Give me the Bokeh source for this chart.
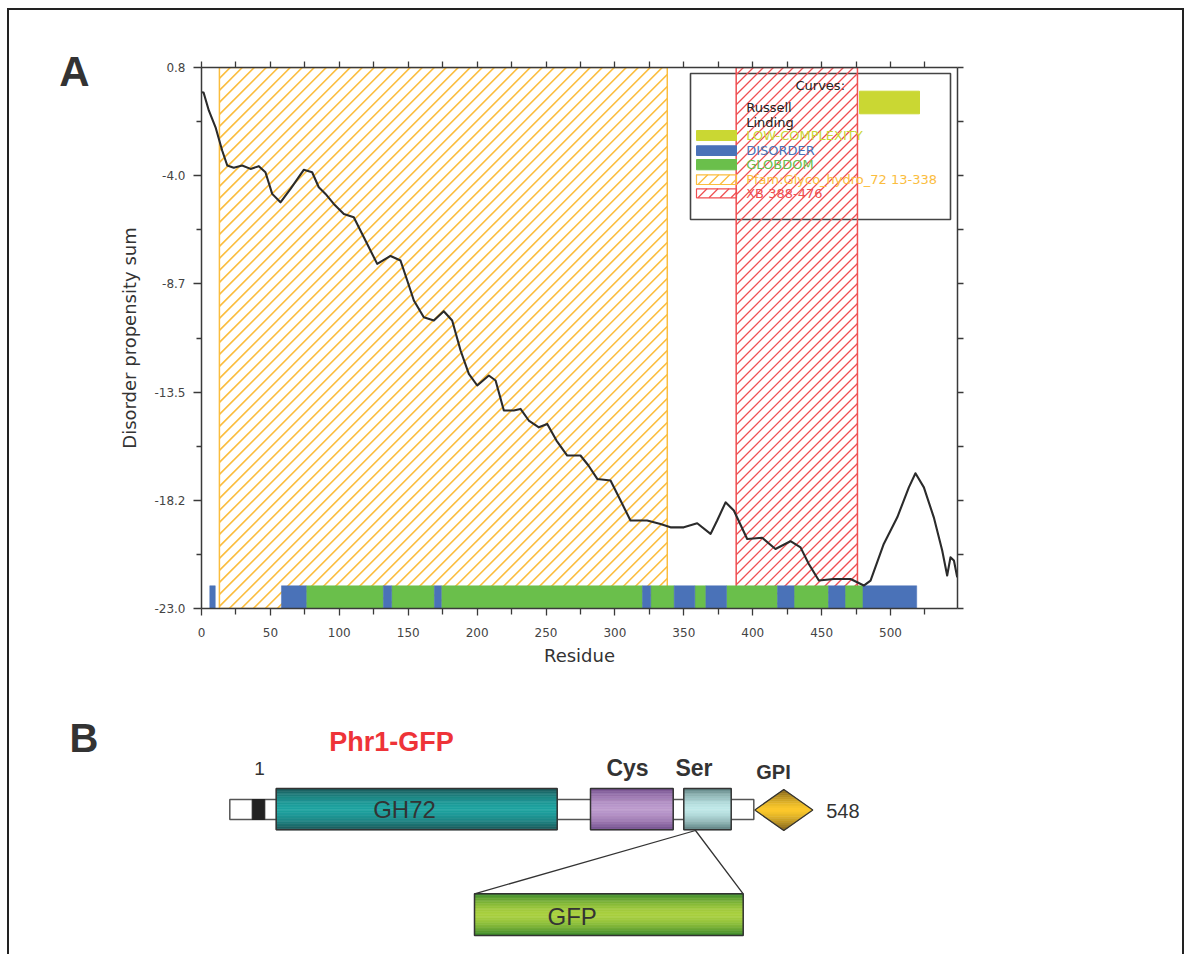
import numpy as np
from bokeh.plotting import figure
from bokeh.models import Range1d, LinearAxis, FixedTicker
from bokeh.layouts import column
from bokeh.core.properties import value
from bokeh.embed import file_html
from bokeh.resources import INLINE

# ---------------- Panel A data ----------------
residue = [0, 1.5, 5.3, 10.2, 15.0, 18.7, 23.4, 29.5, 35.6, 41.6, 46.4, 51.3, 57.3, 64.6, 74.2,
           80.3, 85.1, 90.0, 96.0, 103.3, 110.5, 117.8, 127.5, 137.2, 144.4, 149.3, 154.1, 161.3,
           168.6, 175.8, 181.9, 188.0, 194.0, 200.1, 208.5, 213.4, 219.4, 226.6, 231.5, 237.5,
           244.8, 250.9, 257.6, 265.4, 275.0, 280.8, 287.2, 296.8, 304.1, 311.3, 323.4, 333.1,
           340.3, 350.0, 359.7, 369.4, 374.2, 380.3, 386.3, 396.0, 406.9, 416.5, 427.4, 434.7,
           440.7, 448.0, 458.9, 471.0, 480.6, 485.5, 495.1, 504.9, 513.3, 518.1, 524.2, 531.4,
           537.5, 541.1, 543.5, 546.0, 548.4]
propensity = [-0.29, -0.30, -1.09, -1.83, -2.85, -3.51, -3.61, -3.51, -3.66, -3.54, -3.81, -4.76,
              -5.13, -4.54, -3.70, -3.81, -4.47, -4.76, -5.20, -5.64, -5.79, -6.67, -7.84, -7.49,
              -7.69, -8.57, -9.45, -10.19, -10.33, -9.92, -10.33, -11.65, -12.68, -13.19, -12.75,
              -12.97, -14.29, -14.29, -14.22, -14.73, -15.03, -14.88, -15.61, -16.27, -16.27,
              -16.71, -17.30, -17.37, -18.25, -19.13, -19.13, -19.28, -19.43, -19.43, -19.25,
              -19.72, -19.13, -18.33, -18.69, -19.94, -19.89, -20.38, -20.04, -20.31, -21.04,
              -21.77, -21.70, -21.70, -21.99, -21.77, -20.16, -18.99, -17.67, -17.05, -17.67,
              -18.99, -20.45, -21.55, -20.75, -20.89, -21.63]

disorder_start = [6, 58, 132, 169, 320, 343, 366, 418, 455, 480]
disorder_end = [10, 76, 138, 174, 326, 358, 381, 430, 467, 519]
globdom_start = [76, 138, 174, 326, 358, 381, 430, 467]
globdom_end = [132, 169, 320, 343, 366, 418, 455, 480]

pfam_region = (13, 338)
xb_region = (388, 476)

y_ticks = [0.8, -3.96, -8.72, -13.48, -18.24, -23.0]
y_tick_labels = ["0.8", "-4.0", "-8.7", "-13.5", "-18.2", "-23.0"]
y_minor = [-1.58, -6.34, -11.1, -15.86, -20.62]
x_ticks = list(range(0, 501, 50))
x_minor = list(range(25, 549, 50))
x_top_ticks = list(range(0, 549, 25))

legend_labels = ["LOW-COMPLEXITY", "DISORDER", "GLOBDOM", "Pfam:Glyco_hydro_72 13-338", "XB 388-476"]

# ---------------- Panel B data (schematic, picture-pixel units) ----------------
domain_names = ["GH72", "Cys", "Ser"]
domain_x0 = [275.7, 590.0, 683.3]
domain_x1 = [556.7, 672.7, 730.7]

# ---------------- colours ----------------
C_ORANGE = "#fbbd3e"
C_RED = "#ef4f52"
C_BLUE = "#4a72b8"
C_GREEN = "#6abf4b"
C_LOWC = "#cad733"
AX = "#3a3a3a"
TXT = "#333333"

X_LO, X_HI = 0, 548.6
Y_LO, Y_HI = -23.0, 0.8

W = 1173
HA, HB = 690, 254
ML, MR = 192, 225

pA = figure(width=W, height=HA, x_range=Range1d(X_LO, X_HI), y_range=Range1d(Y_LO, Y_HI),
            output_backend="svg", toolbar_location=None,
            min_border_left=ML, min_border_right=MR, min_border_top=57, min_border_bottom=92)
pA.xgrid.visible = False
pA.ygrid.visible = False
pA.outline_line_color = None

# frame pixel <-> data helpers (legend layout and hatching only)
FR_L, FR_R, FR_T, FR_B = 201, 957, 67, 608
SX = (FR_R - FR_L) / (X_HI - X_LO)
SY = (FR_B - FR_T) / (Y_HI - Y_LO)
def rx(px):
    return X_LO + (px - FR_L) / SX
def ry(py):
    return Y_HI - (py - FR_T) / SY


def hatch_segments(x0, x1, y0, y1, spacing):
    """45-degree '/' hatch lines (in screen space) clipped to a data rectangle."""
    X0, X1 = (x0 - X_LO) * SX, (x1 - X_LO) * SX
    Y0, Y1 = (y0 - Y_LO) * SY, (y1 - Y_LO) * SY
    a0, b0, a1, b1 = [], [], [], []
    for c in np.arange(Y0 - X1 + spacing / 2, Y1 - X0, spacing):
        xa = max(X0, Y0 - c)
        xb = min(X1, Y1 - c)
        if xb > xa:
            a0.append(xa / SX + X_LO); b0.append((xa + c) / SY + Y_LO)
            a1.append(xb / SX + X_LO); b1.append((xb + c) / SY + Y_LO)
    return a0, b0, a1, b1


# axes
xa = pA.xaxis[0]
xa.ticker = FixedTicker(ticks=x_ticks, minor_ticks=x_minor)
xa.axis_label = "Residue"
ya = pA.yaxis[0]
ya.ticker = FixedTicker(ticks=y_ticks, minor_ticks=y_minor)
ya.major_label_overrides = {t: l for t, l in zip(y_ticks, y_tick_labels)}
ya.axis_label = "Disorder propensity sum"

for ax in (xa, ya):
    ax.axis_line_color = AX
    ax.axis_line_width = 1.5
    ax.major_tick_line_color = AX
    ax.minor_tick_line_color = AX
    ax.major_tick_line_width = 1.3
    ax.minor_tick_line_width = 1.3
    ax.major_tick_in = 0
    ax.minor_tick_in = 0
    ax.major_label_text_font = "DejaVu Sans"
    ax.major_label_text_font_size = "12px"
    ax.major_label_text_color = "#444444"
    ax.axis_label_text_font = "DejaVu Sans"
    ax.axis_label_text_font_size = "18px"
    ax.axis_label_text_font_style = "normal"
    ax.axis_label_text_color = TXT
xa.major_tick_out = 7
xa.minor_tick_out = 6
xa.major_label_standoff = 12
xa.axis_label_standoff = 5
ya.major_tick_out = 8
ya.minor_tick_out = 5
ya.major_label_standoff = 8
ya.axis_label_standoff = 11

right_ax = LinearAxis(ticker=FixedTicker(ticks=y_ticks + y_minor, minor_ticks=[]),
                      major_label_overrides={t: "" for t in y_ticks + y_minor},
                      major_label_standoff=0)
top_ax = LinearAxis(ticker=FixedTicker(ticks=x_top_ticks, minor_ticks=[]),
                    major_label_overrides={t: "" for t in x_top_ticks},
                    major_label_standoff=0)
for ax in (right_ax, top_ax):
    ax.axis_line_color = AX
    ax.axis_line_width = 1.5
    ax.major_tick_line_color = AX
    ax.major_tick_line_width = 1.3
    ax.major_tick_in = 0
    ax.major_tick_out = 6
    ax.minor_tick_line_color = None
pA.add_layout(right_ax, "right")
pA.add_layout(top_ax, "above")

# panel letter "A" as an outer left axis label
a_pos = ry(71)
letter_a = LinearAxis(ticker=FixedTicker(ticks=[a_pos], minor_ticks=[]),
                      major_label_overrides={a_pos: "A"}, axis_line_color=None,
                      major_tick_line_color=None, minor_tick_line_color=None,
                      major_label_standoff=21, major_label_text_font="Liberation Sans",
                      major_label_text_font_size="42px", major_label_text_font_style="bold",
                      major_label_text_color=TXT)
pA.add_layout(letter_a, "left")

# legend frame (under the hatching)
pA.quad(left=[rx(690)], right=[rx(950)], top=[ry(73)], bottom=[ry(219)],
        fill_color=None, line_color="#444444", line_width=1.6)

# hatched domain regions
for (r0, r1), col, sp, lw in ((pfam_region, C_ORANGE, 12.0, 1.6), (xb_region, C_RED, 10.0, 1.3)):
    s = hatch_segments(r0, r1, Y_LO, Y_HI, sp)
    pA.segment(x0=s[0], y0=s[1], x1=s[2], y1=s[3], line_color=col, line_width=lw)
    pA.quad(left=[r0], right=[r1], top=[Y_HI], bottom=[Y_LO], fill_color=None,
            line_color=col, line_width=1.5)

# bottom prediction bars
BAR_B, BAR_T = -23.0, -22.0
pA.quad(left=globdom_start, right=globdom_end, bottom=BAR_B, top=BAR_T,
        fill_color=C_GREEN, line_color=C_GREEN, line_width=0.5)
pA.quad(left=disorder_start, right=disorder_end, bottom=BAR_B, top=BAR_T,
        fill_color=C_BLUE, line_color=C_BLUE, line_width=0.5)

# disorder propensity curve
pA.line(residue, propensity, line_color="#2b2b2b", line_width=2.1, line_join="round")

# legend contents
LF = value("DejaVu Sans")
pA.text(x=[rx(795)], y=[ry(85)], text=["Curves:"], text_font=LF, text_font_size="13px",
        text_color="#222222", text_baseline="middle", text_align="left")
pA.text(x=[rx(745.7), rx(745.7)], y=[ry(106.5), ry(121.5)], text=["Russell", "Linding"],
        text_font=LF, text_font_size="13px", text_color="#222222",
        text_baseline="middle", text_align="left")
pA.quad(left=[rx(859)], right=[rx(919)], top=[ry(90.7)], bottom=[ry(113.3)],
        fill_color=C_LOWC, line_color=C_LOWC)

sw_top = [130, 145.3, 159, 174.3, 188.3]
sw_bot = [140, 155, 169.3, 184, 197.3]
sw_txt_y = [134.5, 149.5, 164, 179, 193]
sw_cols = [C_LOWC, C_BLUE, C_GREEN, C_ORANGE, C_RED]
for i in range(3):
    pA.quad(left=[rx(696)], right=[rx(736)], top=[ry(sw_top[i])], bottom=[ry(sw_bot[i])],
            fill_color=sw_cols[i], line_color=sw_cols[i])
for i in (3, 4):
    s = hatch_segments(rx(696), rx(736), ry(sw_bot[i]), ry(sw_top[i]), 11.0)
    pA.segment(x0=s[0], y0=s[1], x1=s[2], y1=s[3], line_color=sw_cols[i], line_width=1.3)
    pA.quad(left=[rx(696)], right=[rx(736)], top=[ry(sw_top[i])], bottom=[ry(sw_bot[i])],
            fill_color=None, line_color=sw_cols[i], line_width=1.2)
pA.text(x=[rx(745.7)] * 5, y=[ry(v) for v in sw_txt_y], text=legend_labels,
        text_font=LF, text_font_size="13px", text_color=sw_cols,
        text_baseline="middle", text_align="left")

# ---------------- Panel B ----------------
pB = figure(width=W, height=HB, x_range=Range1d(FR_L, FR_R), y_range=Range1d(700 + HB, 700),
            output_backend="svg", toolbar_location=None, x_axis_type=None, y_axis_type=None,
            min_border_left=ML, min_border_right=MR, min_border_top=0, min_border_bottom=0)
pB.xgrid.visible = False
pB.ygrid.visible = False
pB.outline_line_color = None

letter_b = LinearAxis(ticker=FixedTicker(ticks=[707], minor_ticks=[]),
                      major_label_overrides={707: "B"}, axis_line_color=None,
                      major_tick_line_color=None, minor_tick_line_color=None,
                      major_label_standoff=97, major_label_text_font="Liberation Sans",
                      major_label_text_font_size="40px", major_label_text_font_style="bold",
                      major_label_text_color=TXT)
pB.add_layout(letter_b, "left")


def hx(c):
    c = c.lstrip("#")
    return np.array([int(c[i:i + 2], 16) for i in (0, 2, 4)], dtype=float)


def mix(c1, c2, t):
    a, b = hx(c1), hx(c2)
    r = a + (b - a) * t
    return "#%02x%02x%02x" % tuple(int(round(v)) for v in r)


def grad_box(p, x0, x1, y0, y1, edge, mid, n=26, outline="#333333"):
    ys = np.linspace(y0, y1, n + 1)
    yc = (y0 + y1) / 2.0
    hh = (y1 - y0) / 2.0
    cols = []
    for i in range(n):
        t = abs((ys[i] + ys[i + 1]) / 2 - yc) / hh
        cols.append(mix(mid, edge, t ** 1.7))
    p.quad(left=x0, right=x1, top=list(ys[:-1]), bottom=list(ys[1:]),
           fill_color=cols, line_color=cols, line_width=0.6)
    p.quad(left=[x0], right=[x1], top=[y0], bottom=[y1], fill_color=None,
           line_color=outline, line_width=1.5)


# backbone
BB_Y0, BB_Y1 = 799, 819
pB.quad(left=[229.3], right=[753.3], top=[BB_Y0], bottom=[BB_Y1], fill_color="white",
        line_color="#555555", line_width=1.5)
pB.quad(left=[251.7], right=[264.3], top=[BB_Y0], bottom=[BB_Y1], fill_color="#222222",
        line_color="#222222", line_width=1)

DOM_Y0, DOM_Y1 = 788, 829.3
dom_edge = ["#1b5657", "#714c8c", "#5a7d7e"]
dom_mid = ["#1fa3a0", "#bc9acd", "#bfe7e7"]
for x0, x1, e, m in zip(domain_x0, domain_x1, dom_edge, dom_mid):
    grad_box(pB, x0, x1, DOM_Y0, DOM_Y1, e, m)

# GPI diamond
cx, cy, hw, hh = 783.3, 809.5, 29.0, 20.5
nb = 20
ys = np.linspace(cy - hh, cy + hh, nb + 1)
def wd(y):
    return hw * (1 - abs(y - cy) / hh)
xs_list, ys_list, dcols = [], [], []
for i in range(nb):
    ya_, yb_ = ys[i], ys[i + 1]
    xs_list.append([cx - wd(ya_), cx + wd(ya_), cx + wd(yb_), cx - wd(yb_)])
    ys_list.append([ya_, ya_, yb_, yb_])
    t = abs((ya_ + yb_) / 2 - cy) / hh
    dcols.append(mix("#fdca2c", "#7a5c18", t ** 1.4))
pB.patches(xs_list, ys_list, fill_color=dcols, line_color=dcols, line_width=0.6)
pB.patch([cx - hw, cx, cx + hw, cx], [cy, cy - hh, cy, cy + hh], fill_color=None,
         line_color="#333333", line_width=1.3)

# GFP insertion
grad_box(pB, 474.0, 742.7, 893.3, 935.0, "#3a882c", "#a9d040")
pB.line([474.0, 695.0, 742.7], [893.3, 830.0, 893.3], line_color="#333333", line_width=1.3)

BF = value("Liberation Sans")
pB.text(x=[404], y=[808.5], text=["GH72"], text_font=BF, text_font_size="24px",
        text_color=TXT, text_align="center", text_baseline="middle")
pB.text(x=[571.7], y=[915.7], text=["GFP"], text_font=BF, text_font_size="24px",
        text_color=TXT, text_align="center", text_baseline="middle")
pB.text(x=[627, 693.5], y=[767, 767], text=["Cys", "Ser"], text_font=BF,
        text_font_size="23px", text_font_style="bold", text_color=TXT,
        text_align="center", text_baseline="middle")
pB.text(x=[773], y=[771], text=["GPI"], text_font=BF, text_font_size="20px",
        text_font_style="bold", text_color=TXT, text_align="center", text_baseline="middle")
pB.text(x=[259], y=[768], text=["1"], text_font=BF, text_font_size="19px",
        text_color=TXT, text_align="center", text_baseline="middle")
pB.text(x=[825.7], y=[810.5], text=["548"], text_font=BF, text_font_size="20px",
        text_color=TXT, text_align="left", text_baseline="middle")
pB.text(x=[391], y=[741], text=["Phr1-GFP"], text_font=BF, text_font_size="27px",
        text_font_style="bold", text_color="#ee3338", text_align="center",
        text_baseline="middle")

inner = column(pA, pB, styles={"border-top": "2px solid #222",
                               "border-left": "2px solid #222",
                               "border-right": "2px solid #222"})
layout = column(inner, styles={"padding-left": "7px", "padding-top": "8px"})

open("out.html", "w").write(file_html(layout, INLINE))
